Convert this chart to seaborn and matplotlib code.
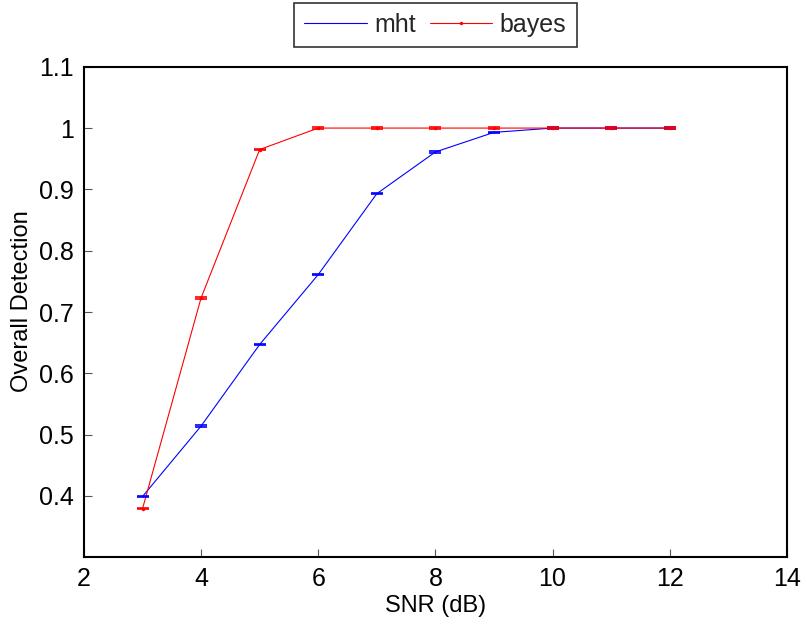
import numpy as np
import pandas as pd
import matplotlib
matplotlib.use("Agg")
import matplotlib.pyplot as plt
import seaborn as sns

# values
snr = [3, 4, 5, 6, 7, 8, 9, 10, 11, 12]
mht = [0.399, 0.514, 0.647, 0.761, 0.893, 0.961, 0.993, 1.0, 1.0, 1.0]
bayes = [0.379, 0.723, 0.965, 1.0, 1.0, 1.0, 1.0, 1.0, 1.0, 1.0]
mht_err = [0.001] * 10
bayes_err = [0.001] * 10

sns.set_style("white")
plt.rcParams['font.family'] = ['Liberation Sans', 'DejaVu Sans']
plt.rcParams['font.size'] = 18

df = pd.DataFrame({"snr": snr, "mht": mht, "bayes": bayes})

fig = plt.figure(figsize=(8.07, 6.24), dpi=100)
ax = fig.add_axes([0.104, 0.107, 0.871, 0.786])

sns.lineplot(data=df, x="snr", y="mht", color="blue", lw=0.8, ax=ax, label="mht")
sns.lineplot(data=df, x="snr", y="bayes", color="red", lw=0.8, marker=".",
             markersize=5, markeredgewidth=0, ax=ax, label="bayes")

# tiny error bars (caps only visible)
ax.errorbar(snr, mht, yerr=mht_err, fmt="none", ecolor="blue", elinewidth=0.8,
            capsize=4.3, capthick=1.2)
ax.errorbar(snr, bayes, yerr=bayes_err, fmt="none", ecolor="red", elinewidth=0.8,
            capsize=4.3, capthick=1.2)

ax.set_xlim(2, 14)
ax.set_ylim(0.3, 1.1)
ax.set_xticks([2, 4, 6, 8, 10, 12, 14])
ax.set_yticks([0.4, 0.5, 0.6, 0.7, 0.8, 0.9, 1.0, 1.1])
ax.set_yticklabels(["0.4", "0.5", "0.6", "0.7", "0.8", "0.9", "1", "1.1"])
ax.set_xlabel("SNR (dB)", fontsize=17, labelpad=3, color="black")
ax.set_ylabel("Overall Detection", fontsize=17, color="black")
ax.yaxis.set_label_coords(-0.072, 0.522)
ax.tick_params(left=True, bottom=True, direction="in", length=6, width=0.8,
               colors="#555555", labelcolor="black", labelsize=18, pad=7)
for s in ax.spines.values():
    s.set_color("black")
    s.set_linewidth(1.5)

leg = ax.legend(loc="lower center", bbox_to_anchor=(0.5, 1.0), ncol=2,
                frameon=True, fancybox=False, edgecolor="black",
                handlelength=2.5, columnspacing=0.56, handletextpad=0.3,
                borderpad=0.4, borderaxespad=0.8, fontsize=18)
leg.get_frame().set_linewidth(1.2)

fig.savefig("out.png", dpi=100)
